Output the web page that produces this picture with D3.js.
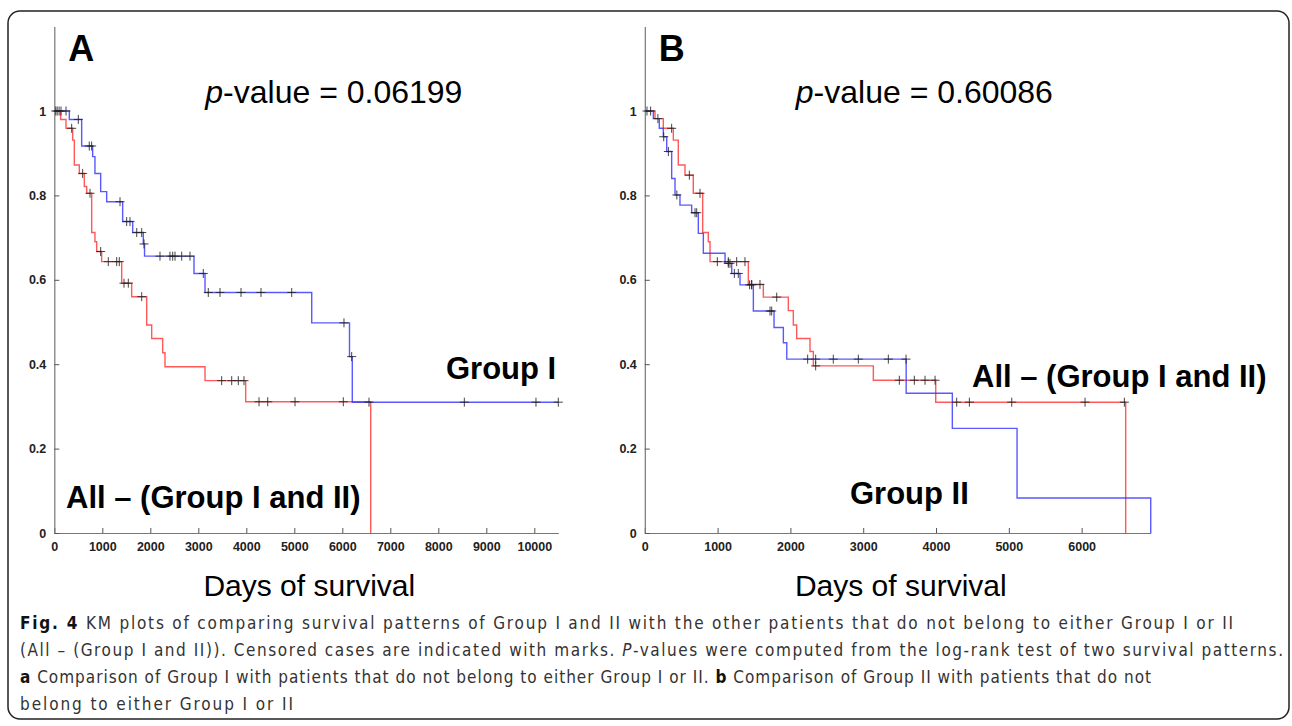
<!DOCTYPE html>
<html>
<head>
<meta charset="utf-8">
<script src="https://cdn.jsdelivr.net/npm/d3@7"></script>
<style>
  body { margin: 0; background: #fff; }
  svg text { font-family: "Liberation Sans", Arial, Helvetica, sans-serif; }
</style>
</head>
<body>
<svg id="fig" width="1292" height="726"></svg>
<script>
// ---- panel A : Group I vs All - (Group I and II) ----
const groupIDays   = [313, 570, 799, 847, 966, 1091, 1424, 1633, 1854, 1880, 2910, 3140, 5363, 6150, 6208]
const groupISurv   = [0.98, 0.917, 0.892, 0.852, 0.809, 0.785, 0.738, 0.712, 0.685, 0.656, 0.615, 0.57, 0.498, 0.418, 0.31]
const groupICens   = [60, 140, 244, 500, 729, 778, 1369, 1508, 1577, 1717, 1821, 1869, 2202, 2410, 2467, 2515, 2654, 2827,
                      3104, 3208, 3452, 3890, 4306, 4946, 6035, 6195, 6556, 8542, 10035, 10500]
const groupIEnd    = 10500

const restADays    = [132, 244, 383, 417, 521, 625, 675, 779, 847, 883, 986, 1404, 1612, 1925, 2029, 2258, 2306, 3140, 3987, 6592]
const restASurv    = [0.98, 0.959, 0.931, 0.872, 0.852, 0.821, 0.805, 0.712, 0.69, 0.667, 0.643, 0.592, 0.56, 0.493, 0.461, 0.427, 0.394, 0.361, 0.311, 0]
const restACens    = [30, 100, 362, 591, 744, 966, 1125, 1300, 1354, 1452, 1542, 1821, 3487, 3696, 3833, 3952, 4265, 4446, 5015, 6021]
const restAEnd     = 6592

// ---- panel B : Group II vs All - (Group I and II) ----
const groupIIDays  = [117, 199, 254, 301, 369, 415, 483, 644, 735, 804, 1102, 1194, 1308, 1491, 1775, 1903, 1950, 3590, 4224, 5113, 6949]
const groupIISurv  = [0.982, 0.959, 0.939, 0.904, 0.84, 0.801, 0.777, 0.759, 0.71, 0.663, 0.639, 0.615, 0.588, 0.526, 0.487, 0.451, 0.412, 0.331, 0.248, 0.083, 0]
const groupIICens  = [180, 260, 324, 440, 690, 713, 1147, 1170, 1230, 1284, 1440, 1468, 1720, 1743,
                      2237, 2347, 2589, 2933, 3345, 3588]
const groupIIEnd   = 6949

const restBDays    = [140, 254, 392, 460, 552, 666, 795, 872, 896, 1422, 1628, 1971, 2040, 2086, 2269, 2315, 3139, 3996, 6605]
const restBSurv    = [0.982, 0.959, 0.931, 0.872, 0.848, 0.805, 0.712, 0.69, 0.643, 0.589, 0.559, 0.527, 0.493, 0.461, 0.43, 0.396, 0.362, 0.31, 0]
const restBCens    = [30, 80, 369, 612, 758, 996, 1147, 1262, 1376, 1468, 1582, 1812, 2347, 3496, 3702, 3849, 3987,
                      4284, 4458, 5040, 6047, 6587]
const restBEnd     = 6605

const yTicks = [0, 0.2, 0.4, 0.6, 0.8, 1]
const xTicksA = d3.range(0, 10001, 1000)
const xTicksB = d3.range(0, 6001, 1000)

const captionLines = [
  [['b', 'Fig. 4'], ['', ' KM plots of comparing survival patterns of Group I and II with the other patients that do not belong to either Group I or II']],
  [['', '(All \u2013 (Group I and II)). Censored cases are indicated with marks. '], ['i', 'P'], ['', '-values were computed from the log-rank test of two survival patterns.']],
  [['b', 'a'], ['', ' Comparison of Group I with patients that do not belong to either Group I or II. '], ['b', 'b'], ['', ' Comparison of Group II with patients that do not']],
  [['', 'belong to either Group I or II']]
]
const captionWidths = [1213, 1263, 1131, 273]

const svg = d3.select('#fig')
const RED = '#ff3030'
const BLUE = '#3030ff'

// outer frame
svg.append('rect')
  .attr('x', 8).attr('y', 11)
  .attr('width', 1281).attr('height', 708)
  .attr('rx', 12)
  .attr('fill', 'none')
  .attr('stroke', '#222')
  .attr('stroke-width', 1.5)

function survAt(days, surv, t){
  let s = 1
  days.forEach((d, i) => { if (d <= t) s = surv[i] })
  return s
}

function drawPanel(p){
  const x = d3.scaleLinear().domain([0, p.xMax]).range([p.left, p.right])
  const y = d3.scaleLinear().domain([0, 1.2]).range([533, 26.6])
  const g = svg.append('g')

  // axes (MATLAB style, inward ticks, no box)
  const xAxis = g.append('g').attr('transform', 'translate(0,533)')
    .call(d3.axisBottom(x).tickValues(p.xTicks).tickSizeInner(-5).tickSizeOuter(0).tickPadding(9).tickFormat(d3.format('d')))
  const yAxis = g.append('g').attr('transform', `translate(${p.left},0)`)
    .call(d3.axisLeft(y).tickValues(yTicks).tickSizeInner(-5).tickSizeOuter(0).tickPadding(8).tickFormat(d => d === 0 || d === 1 ? d : d3.format('.1f')(d)))
  ;[xAxis, yAxis].forEach(a => {
    a.select('.domain').attr('stroke', '#777').attr('stroke-width', 1.2)
    a.selectAll('.tick line').attr('stroke', '#555')
    a.selectAll('.tick text').attr('font-size', 12.5).attr('font-weight', 'bold').attr('fill', '#222')
      .style('font-family', '"Liberation Sans", Arial, sans-serif')
  })

  const line = d3.line().x(d => x(d[0])).y(d => y(d[1])).curve(d3.curveStepAfter)

  p.curves.forEach(c => {
    const pts = [[0, 1]].concat(c.days.map((d, i) => [d, c.surv[i]]))
    pts.push([c.end, c.surv[c.surv.length - 1]])
    g.append('path')
      .attr('d', line(pts))
      .attr('fill', 'none')
      .attr('stroke', c.color)
      .attr('stroke-opacity', 0.8)
      .attr('stroke-width', 1.4)
  })

  p.curves.forEach(c => {
    g.selectAll(null)
      .data(c.cens)
      .enter()
      .append('path')
      .attr('transform', d => `translate(${x(d)},${y(survAt(c.days, c.surv, d))})`)
      .attr('d', 'M-4.5,0H4.5M0,-4.5V4.5')
      .attr('stroke', '#222')
      .attr('stroke-opacity', 0.85)
      .attr('stroke-width', 1)
  })

  g.append('text').attr('x', p.left + 14).attr('y', 61)
    .attr('font-size', 36).attr('font-weight', 'bold').text(p.letter)

  const pv = g.append('text').attr('x', p.left + 151).attr('y', 103).attr('font-size', 32)
  pv.append('tspan').attr('font-style', 'italic').text('p')
  pv.append('tspan').text('-value = ' + p.pValue)

  p.labels.forEach(l => {
    g.append('text').attr('x', l.x).attr('y', l.y)
      .attr('font-size', 31).attr('font-weight', 'bold').text(l.text)
  })

  g.append('text').attr('x', (p.left + p.right) / 2 + 3).attr('y', 596)
    .attr('text-anchor', 'middle').attr('font-size', 30).text('Days of survival')
}

drawPanel({
  letter: 'A', pValue: '0.06199', left: 54.3, right: 558.3, xMax: 10500, xTicks: xTicksA,
  curves: [
    {days: restADays, surv: restASurv, cens: restACens, end: restAEnd, color: RED},
    {days: groupIDays, surv: groupISurv, cens: groupICens, end: groupIEnd, color: BLUE}
  ],
  labels: [
    {text: 'Group I', x: 446, y: 379},
    {text: 'All \u2013 (Group I and II)', x: 66, y: 508}
  ]
})

drawPanel({
  letter: 'B', pValue: '0.60086', left: 644.8, right: 1150.8, xMax: 6950, xTicks: xTicksB,
  curves: [
    {days: restBDays, surv: restBSurv, cens: restBCens, end: restBEnd, color: RED},
    {days: groupIIDays, surv: groupIISurv, cens: groupIICens, end: groupIIEnd, color: BLUE}
  ],
  labels: [
    {text: 'All \u2013 (Group I and II)', x: 972, y: 387},
    {text: 'Group II', x: 850, y: 504}
  ]
})

// caption
captionLines.forEach((parts, i) => {
  const t = svg.append('text')
    .attr('x', 20).attr('y', 629 + i * 27)
    .attr('font-size', 17)
    .attr('fill', '#333')
    .attr('textLength', captionWidths[i])
    .attr('lengthAdjust', 'spacing')
    .style('font-family', '"Liberation Sans Narrow", "DejaVu Sans Condensed", "Roboto Condensed", sans-serif')
  parts.forEach(([style, txt]) => {
    const s = t.append('tspan').text(txt)
    if (style === 'b') s.attr('font-weight', 'bold').attr('fill', '#111')
    if (style === 'i') s.attr('font-style', 'italic')
  })
})
</script>
</body>
</html>
